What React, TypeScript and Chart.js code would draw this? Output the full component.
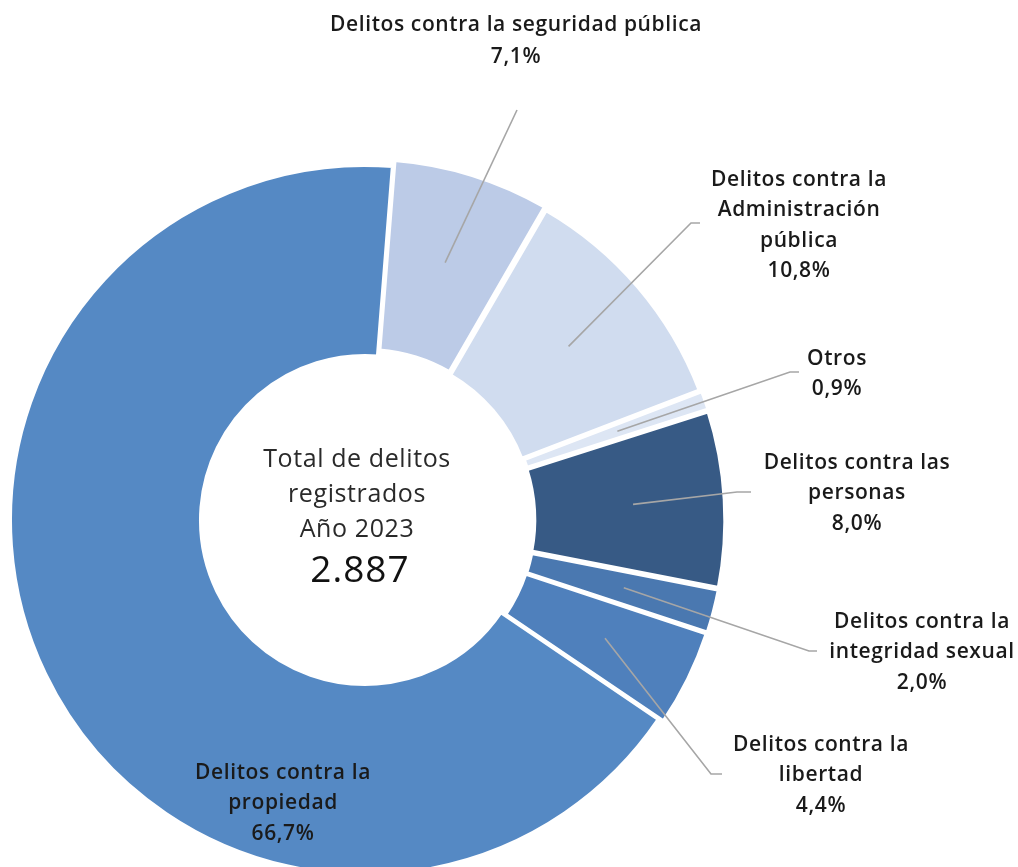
import React, { useEffect, useRef } from "react";
import { Chart, registerables } from "chart.js";

Chart.register(...registerables);

// ---- Data ----
const categories: string[] = [
  "Delitos contra la seguridad pública",
  "Delitos contra la Administración pública",
  "Otros",
  "Delitos contra las personas",
  "Delitos contra la integridad sexual",
  "Delitos contra la libertad",
  "Delitos contra la propiedad",
];
const shares: number[] = [7.1, 10.8, 0.9, 8.0, 2.0, 4.4, 66.7];
const shareLabels: string[] = ["7,1%", "10,8%", "0,9%", "8,0%", "2,0%", "4,4%", "66,7%"];
const labelLines: string[][] = [
  ["Delitos contra la seguridad pública"],
  ["Delitos contra la", "Administración", "pública"],
  ["Otros"],
  ["Delitos contra las", "personas"],
  ["Delitos contra la", "integridad sexual"],
  ["Delitos contra la", "libertad"],
  ["Delitos contra la", "propiedad"],
];
const centerLines: string[] = ["Total de delitos", "registrados", "Año 2023"];
const totalLabel = "2.887";

// ---- Styles ----
const sliceColors = ["#BCCBE7", "#D0DCEF", "#DDE6F4", "#375A85", "#4A78B0", "#4F80BC", "#5589C4"];
const sliceOffsets = [16, 12, 12, 14, 12, 12, 0];

// label layout, relative to the doughnut centre: [textCenterX, firstLineY]
const labelPos: [number, number][] = [
  [151, -495],
  [434, -340],
  [472, -161],
  [492, -57],
  [557, 102],
  [456, 225],
  [-82, 253],
];
// leader lines: elbow and end, relative to centre (null = no line)
const leaderPts: ([number, number][] | null)[] = [
  [[152, -410]],
  [[326, -297], [335, -297]],
  [[425, -148], [434, -148]],
  [[372, -28], [386, -28]],
  [[444, 131], [452, 131]],
  [[346, 254], [357, 254]],
  null,
];

const LABEL_FONT = "600 21px 'Open Sans'";
const LINE_H = 30.5;

const overlayPlugin = {
  id: "overlay",
  afterDatasetsDraw(chart: any) {
    const ctx = chart.ctx;
    const meta = chart.getDatasetMeta(0);
    const arcs = meta.data;
    if (!arcs.length) return;
    const cx = arcs[6].x;
    const cy = arcs[6].y;

    // center text
    ctx.save();
    ctx.fillStyle = "#2A2A2A";
    ctx.textAlign = "center";
    ctx.textBaseline = "middle";
    ctx.font = "400 25px 'Open Sans'";
    (ctx as any).letterSpacing = "0.6px";
    centerLines.forEach((t, i) => ctx.fillText(t, cx - 8, cy - 60 + i * 35));
    ctx.font = "400 37px 'Open Sans'";
    (ctx as any).letterSpacing = "1px";
    ctx.fillStyle = "#111";
    ctx.fillText(totalLabel, cx - 5, cy + 51);
    ctx.restore();

    // leader lines
    ctx.save();
    ctx.strokeStyle = "#A6A6A6";
    ctx.lineWidth = 1.6;
    arcs.forEach((arc: any, i: number) => {
      const pts = leaderPts[i];
      if (!pts) return;
      const p = arc.getProps(["startAngle", "endAngle", "innerRadius", "outerRadius"], true);
      const mid = (p.startAngle + p.endAngle) / 2;
      const r = (p.innerRadius + p.outerRadius) / 2 + (arc.options.offset || 0) / 2 + 2;
      ctx.beginPath();
      ctx.moveTo(cx + Math.cos(mid) * r, cy + Math.sin(mid) * r);
      pts.forEach(([dx, dy]) => ctx.lineTo(cx + dx, cy + dy));
      ctx.stroke();
    });
    ctx.restore();

    // labels
    ctx.save();
    ctx.fillStyle = "#1A1A1A";
    ctx.textAlign = "center";
    ctx.textBaseline = "middle";
    ctx.font = LABEL_FONT;
    (ctx as any).letterSpacing = "0.6px";
    labelLines.forEach((lines, i) => {
      const [lx, ly] = labelPos[i];
      const all = [...lines, shareLabels[i]];
      all.forEach((t, j) => ctx.fillText(t, cx + lx, cy + ly + j * LINE_H + (i === 0 ? j * 2 : 0)));
    });
    ctx.restore();
  },
};

export default function App() {
  const canvasRef = useRef<HTMLCanvasElement | null>(null);

  useEffect(() => {
    if (!canvasRef.current) return;
    const chart = new Chart(canvasRef.current, {
      type: "doughnut",
      data: {
        labels: categories,
        datasets: [
          {
            data: shares,
            backgroundColor: sliceColors,
            borderColor: "#FFFFFF",
            borderWidth: 4,
            offset: sliceOffsets,
          },
        ],
      },
      options: {
        animation: false,
        responsive: false,
        rotation: 4.5,
        radius: 355,
        cutout: "46.2%",
        layout: { padding: { left: 0, right: 288, top: 173, bottom: 0 } },
        plugins: {
          legend: { display: false },
          tooltip: { enabled: false },
        },
        events: [],
      },
      plugins: [overlayPlugin],
    });
    return () => chart.destroy();
  }, []);

  return (
    <div style={{ position: "absolute", left: 0, top: 0, width: 1018, height: 867, background: "#fff" }}>
      <canvas ref={canvasRef} width={1018} height={867} style={{ display: "block" }} />
    </div>
  );
}
